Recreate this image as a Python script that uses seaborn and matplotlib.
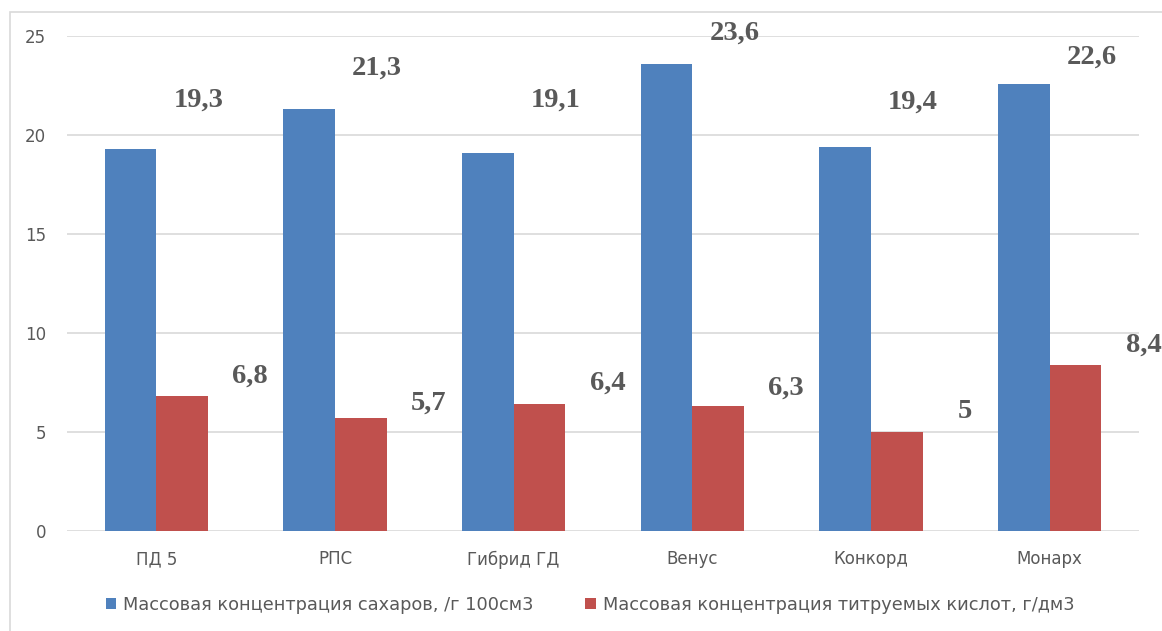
import matplotlib
matplotlib.use("Agg")
import matplotlib.pyplot as plt
from matplotlib.patches import Rectangle, Patch
import seaborn as sns
import pandas as pd

# ---- data ----
categories = ["ПД 5", "РПС", "Гибрид ГД", "Венус", "Конкорд", "Монарх"]
series_names = ["Массовая концентрация сахаров, /г 100см3",
                "Массовая концентрация титруемых кислот, г/дм3"]
sugar = [19.3, 21.3, 19.1, 23.6, 19.4, 22.6]
acid = [6.8, 5.7, 6.4, 6.3, 5.0, 8.4]
y_ticks = [0, 5, 10, 15, 20, 25]

# label offsets (pixels) as placed in the reference
sugar_label_dy = [49, 41, 53, 31, 45, 26]
acid_label_dy = [20, 15, 21, 18, 21, 20]
label_dx = 68

colors = ["#4F81BD", "#C0504D"]
text_gray = "#595959"
grid_gray = "#D9D9D9"

df = pd.DataFrame({
    "cat": categories * 2,
    "val": sugar + acid,
    "series": [series_names[0]] * len(categories) + [series_names[1]] * len(categories),
})

sns.set_theme(style="white")
plt.rcParams["font.family"] = ["DejaVu Sans"]

W, H = 1162, 631
fig = plt.figure(figsize=(W / 100, H / 100), dpi=100)
ax = fig.add_axes([67 / W, 1 - 531 / H, (1139 - 67) / W, (531 - 36) / H])

sns.barplot(data=df, x="cat", y="val", hue="series", order=categories,
            hue_order=series_names, palette=colors, width=0.58,
            linewidth=0, saturation=1, ax=ax, legend=False)

ax.set_ylim(0, 25)
ax.set_xlim(-0.5, len(categories) - 0.5)
ax.set_yticks(y_ticks)
ax.set_yticklabels([str(t) for t in y_ticks])
ax.yaxis.grid(True, color=grid_gray, linewidth=1.2)
ax.set_axisbelow(True)
for s in ax.spines.values():
    s.set_visible(False)
ax.tick_params(axis="y", length=0, pad=15, labelsize=12, labelcolor=text_gray)
ax.tick_params(axis="x", length=0, pad=14, labelsize=12, labelcolor=text_gray)
ax.set_xlabel("")
ax.set_ylabel("")

def fmt(v):
    return f"{v:g}".replace(".", ",")

for cont, vals, dys in zip(ax.containers, [sugar, acid], [sugar_label_dy, acid_label_dy]):
    for bar, v, dy in zip(cont, vals, dys):
        cx = bar.get_x() + bar.get_width() / 2
        ax.annotate(fmt(v), xy=(cx, bar.get_height()), xytext=(label_dx, dy),
                    textcoords="offset pixels", ha="center", va="center",
                    fontsize=20.5, fontweight="bold", color=text_gray,
                    family="Liberation Serif", annotation_clip=False)

handles = [Patch(facecolor=c, edgecolor="none") for c in colors]
leg = fig.legend(handles, series_names, loc="center", ncol=2,
                 bbox_to_anchor=(590 / W, 1 - 605 / H), frameon=False,
                 fontsize=12.8, handlelength=0.6, handleheight=0.6,
                 handletextpad=0.4, columnspacing=2.9)
for t in leg.get_texts():
    t.set_color(text_gray)

fig.patches.append(Rectangle((10 / W, -0.05), 1.1, 1 - 12 / H + 0.05,
                             transform=fig.transFigure, fill=False,
                             edgecolor=grid_gray, linewidth=1.2))

fig.savefig("out.png", dpi=100)
